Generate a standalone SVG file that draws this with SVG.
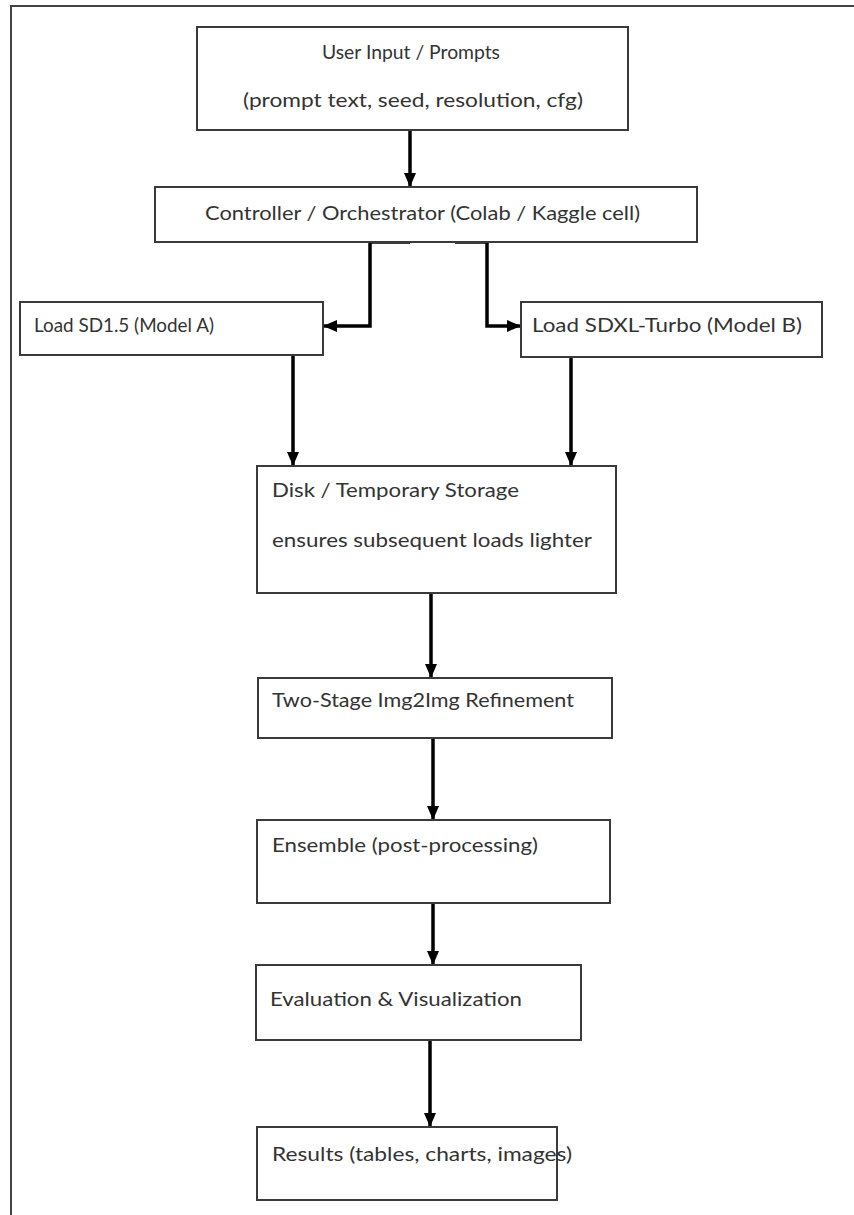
<svg xmlns="http://www.w3.org/2000/svg" width="854" height="1215" viewBox="0 0 854 1215">
<style>
.box{fill:#fff;stroke:#3a3a3a;stroke-width:2}
.t{font-family:Lato,"Open Sans",sans-serif;font-size:20px;fill:#333}
.c{fill:none;stroke:#000;stroke-width:3.5}
.frame{fill:none;stroke:#444;stroke-width:2}
</style>
<defs>
<marker id="ah" markerUnits="userSpaceOnUse" markerWidth="14" markerHeight="14" viewBox="0 0 14 14" refX="13" refY="7" orient="auto">
<path d="M0,1 L14,7 L0,13 Z" fill="#000"/>
</marker>
</defs>
<rect width="854" height="1215" fill="#fff"/>
<path class="frame" d="M11,1215 L11,6 L854,6"/>
<g id="connectors">
<path class="c" d="M410,130 L410,186" marker-end="url(#ah)"/>
<path class="c" d="M410,242 L370,242 L370,326 L324,326" marker-end="url(#ah)"/>
<path class="c" d="M455,242 L487,242 L487,326 L520,326" marker-end="url(#ah)"/>
<path class="c" d="M293,356 L293,465" marker-end="url(#ah)"/>
<path class="c" d="M571,357 L571,465" marker-end="url(#ah)"/>
<path class="c" d="M431,593 L431,677" marker-end="url(#ah)"/>
<path class="c" d="M433,738 L433,819" marker-end="url(#ah)"/>
<path class="c" d="M433,903 L433,964" marker-end="url(#ah)"/>
<path class="c" d="M430,1040 L430,1126" marker-end="url(#ah)"/>
</g>
<g id="user-input">
<rect class="box" x="197" y="27" width="431" height="103"/>
<text class="t" x="322" y="59" textLength="178" lengthAdjust="spacingAndGlyphs">User Input / Prompts</text>
<text class="t" x="243" y="107" textLength="340" lengthAdjust="spacingAndGlyphs">(prompt text, seed, resolution, cfg)</text>
</g>
<g id="controller">
<rect class="box" x="155" y="187" width="542" height="55"/>
<text class="t" x="205" y="220" textLength="435" lengthAdjust="spacingAndGlyphs">Controller / Orchestrator (Colab / Kaggle cell)</text>
</g>
<g id="load-sd15">
<rect class="box" x="20" y="302" width="303" height="53"/>
<text class="t" x="34" y="332" textLength="180" lengthAdjust="spacingAndGlyphs">Load SD1.5 (Model A)</text>
</g>
<g id="load-sdxl">
<rect class="box" x="521" y="302" width="301" height="55"/>
<text class="t" x="532" y="332" textLength="270" lengthAdjust="spacingAndGlyphs">Load SDXL-Turbo (Model B)</text>
</g>
<g id="disk">
<rect class="box" x="257" y="466" width="359" height="127"/>
<text class="t" x="272" y="497" textLength="247" lengthAdjust="spacingAndGlyphs">Disk / Temporary Storage</text>
<text class="t" x="272" y="547" textLength="320" lengthAdjust="spacingAndGlyphs">ensures subsequent loads lighter</text>
</g>
<g id="two-stage">
<rect class="box" x="258" y="678" width="354" height="60"/>
<text class="t" x="272" y="707" textLength="302" lengthAdjust="spacingAndGlyphs">Two-Stage Img2Img Refinement</text>
</g>
<g id="ensemble">
<rect class="box" x="257" y="820" width="353" height="83"/>
<text class="t" x="272" y="852" textLength="266" lengthAdjust="spacingAndGlyphs">Ensemble (post-processing)</text>
</g>
<g id="evaluation">
<rect class="box" x="256" y="965" width="325" height="75"/>
<text class="t" x="270" y="1006" textLength="252" lengthAdjust="spacingAndGlyphs">Evaluation &amp; Visualization</text>
</g>
<g id="results">
<rect class="box" x="257" y="1127" width="300" height="73"/>
<text class="t" x="272" y="1161" textLength="300" lengthAdjust="spacingAndGlyphs">Results (tables, charts, images)</text>
</g>
</svg>
